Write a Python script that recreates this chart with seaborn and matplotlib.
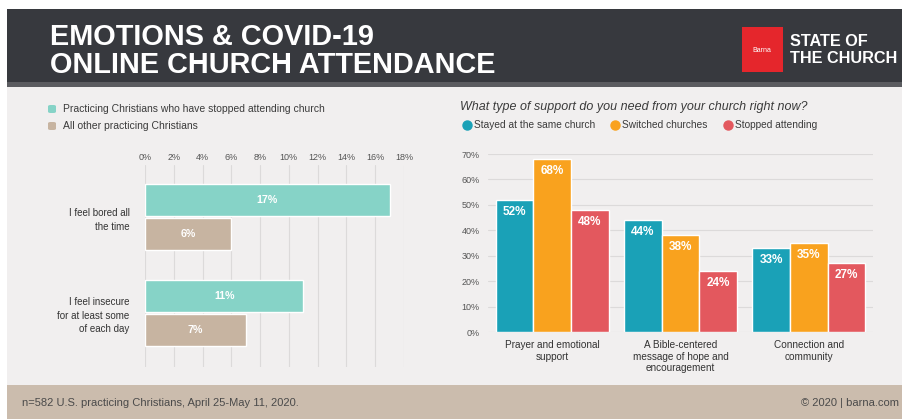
import matplotlib
matplotlib.use("Agg")
import matplotlib.pyplot as plt
import seaborn as sns
import pandas as pd
from matplotlib import font_manager
from matplotlib.patches import Rectangle, FancyBboxPatch
from matplotlib.lines import Line2D

W, H = 902, 419

# left chart data
emotions = ["I feel bored all\nthe time", "I feel insecure\nfor at least some\nof each day"]
stopped_church = [17, 11]
other_christians = [6, 7]
emotion_groups = ["Practicing Christians who have stopped attending church",
                  "All other practicing Christians"]
left_ticks = [0, 2, 4, 6, 8, 10, 12, 14, 16, 18]

# right chart data
support_types = ["Prayer and emotional\nsupport",
                 "A Bible-centered\nmessage of hope and\nencouragement",
                 "Connection and\ncommunity"]
stayed_same = [52, 44, 33]
switched = [68, 38, 35]
stopped_attending = [48, 24, 27]
support_groups = ["Stayed at the same church", "Switched churches", "Stopped attending"]
right_ticks = [0, 10, 20, 30, 40, 50, 60, 70]

TEAL_L, TAN = "#86d3c7", "#c7b4a1"
TEAL, ORANGE, RED = "#1aa1b7", "#f9a21e", "#e3585e"
DARK = "#37393e"
TXT = "#3b3b3b"


def fx(x):
    return x / W


def fy(y):
    return 1 - y / H


def box(x0, y0, x1, y1):
    return [x0 / W, 1 - y1 / H, (x1 - x0) / W, (y1 - y0) / H]


# a narrow bold face for the logo and bar labels, if there is one
try:
    NARROW = font_manager.findfont(
        font_manager.FontProperties(family="Liberation Sans Narrow", weight="bold"),
        fallback_to_default=False)
    if "narrow" not in NARROW.lower():
        NARROW = None
except ValueError:
    NARROW = None


def narrow(size):
    if NARROW:
        return font_manager.FontProperties(fname=NARROW, size=size)
    return font_manager.FontProperties(family="Liberation Sans", weight="bold", size=size * 0.85)


sns.set_style("white")
plt.rcParams["font.family"] = ["Liberation Sans", "DejaVu Sans"]

fig = plt.figure(figsize=(W / 100, H / 100), dpi=100, facecolor="white")

# background bands
fig.add_artist(Rectangle((fx(7), fy(82)), 1, (82 - 9) / H, transform=fig.transFigure,
                         color=DARK, lw=0, zorder=0))
fig.add_artist(Rectangle((fx(7), fy(87)), 1, 5 / H, transform=fig.transFigure,
                         color="#5b5c60", lw=0, zorder=0))
fig.add_artist(Rectangle((fx(7), fy(385)), 1, (385 - 87) / H, transform=fig.transFigure,
                         color="#f1efef", lw=0, zorder=0))
fig.add_artist(Rectangle((fx(7), 0), 1, (H - 385) / H, transform=fig.transFigure,
                         color="#cbbcad", lw=0, zorder=0))

# header
fig.text(fx(50), fy(51), "EMOTIONS & COVID-19\nONLINE CHURCH ATTENDANCE", color="white",
         fontsize=20.8, fontweight="bold", va="center", linespacing=1.0)
fig.add_artist(Rectangle((fx(742), fy(72)), 41 / W, 45 / H, transform=fig.transFigure,
                         color="#e5262c", lw=0))
fig.text(fx(762), fy(50), "Barna", color="white", fontsize=5, ha="center", va="center")
fig.text(fx(790), fy(50), "STATE OF\nTHE CHURCH", color="white", fontproperties=narrow(13.8),
         va="center", linespacing=1.15)

# footer
fig.text(fx(22), fy(403), "n=582 U.S. practicing Christians, April 25-May 11, 2020.",
         fontsize=8, color="#4a4a4a", va="center")
fig.text(fx(899), fy(403), "\u00a9 2020 | barna.com", fontsize=8, color="#4a4a4a",
         va="center", ha="right")

# left legend
for i, (lab, col) in enumerate(zip(emotion_groups, [TEAL_L, TAN])):
    y = 109 + i * 17
    fig.add_artist(FancyBboxPatch((fx(48), fy(y + 4)), 8 / W, 8 / H,
                                  boxstyle="round,pad=0,rounding_size=0.003",
                                  transform=fig.transFigure, color=col, lw=0))
    fig.text(fx(63), fy(y), lab, fontsize=7.5, color=TXT, va="center")

# left chart
df_left = pd.DataFrame({
    "emotion": emotions * 2,
    "pct": stopped_church + other_christians,
    "group": [emotion_groups[0]] * 2 + [emotion_groups[1]] * 2,
})
axl = fig.add_axes(box(145, 165, 404, 367))
sns.barplot(data=df_left, y="emotion", x="pct", hue="group", orient="h",
            palette=[TEAL_L, TAN], width=0.72, gap=0.08, saturation=1,
            legend=False, ax=axl)
axl.set_facecolor("none")
axl.set_xlim(0, 18)
axl.set_ylim(1.5625, -0.5417)
axl.xaxis.tick_top()
axl.set_xticks(left_ticks)
axl.set_xticklabels([f"{t}%" for t in left_ticks])
axl.tick_params(axis="x", length=0, pad=2, labelsize=6.5, colors="#555555")
axl.tick_params(axis="y", length=0, pad=11, labelsize=7, colors="#333333")
for lbl in axl.get_yticklabels():
    lbl.set_multialignment("right")
    lbl.set_linespacing(1.45)
axl.grid(axis="x", color="#dcdada", lw=0.8)
axl.set_axisbelow(True)
axl.set_xlabel("")
axl.set_ylabel("")
sns.despine(ax=axl, left=True, bottom=True)
for c in axl.containers:
    axl.bar_label(c, labels=[f"{v:g}%" for v in c.datavalues], label_type="center",
                  color="white", fontproperties=narrow(9))

# right title and legend
fig.text(fx(460), fy(107), "What type of support do you need from your church right now?",
         fontsize=9, style="italic", color=TXT, va="center")
for x, lab, col in zip([467, 615, 728], support_groups, [TEAL, ORANGE, RED]):
    fig.add_artist(Line2D([fx(x)], [fy(125)], marker="o", markersize=6.5, color=col,
                          lw=0, transform=fig.transFigure))
    fig.text(fx(x + 7), fy(125), lab, fontsize=7.3, color=TXT, va="center")

# right chart
df_right = pd.DataFrame({
    "support": support_types * 3,
    "pct": stayed_same + switched + stopped_attending,
    "group": [g for g in support_groups for _ in support_types],
})
axr = fig.add_axes(box(488, 154, 873, 332))
sns.barplot(data=df_right, x="support", y="pct", hue="group",
            palette=[TEAL, ORANGE, RED], width=0.88, gap=0, saturation=1,
            legend=False, ax=axr)
axr.set_facecolor("none")
axr.set_xlim(-0.5, 2.5)
axr.set_ylim(0, 70)
axr.set_yticks(right_ticks)
axr.set_yticklabels([f"{t}%" for t in right_ticks])
axr.tick_params(axis="y", length=0, pad=6, labelsize=6.5, colors="#555555")
axr.tick_params(axis="x", length=0, pad=6, labelsize=7.2, colors="#333333")
for lbl in axr.get_xticklabels():
    lbl.set_linespacing(1.15)
axr.grid(axis="y", color="#dcdada", lw=0.8)
axr.set_axisbelow(True)
axr.set_xlabel("")
axr.set_ylabel("")
sns.despine(ax=axr, left=True, bottom=True)
for c in axr.containers:
    axr.bar_label(c, labels=[f"{v:g}%" for v in c.datavalues], padding=-13,
                  color="white", fontproperties=narrow(10))

fig.savefig("out.png", dpi=100, facecolor="white")
